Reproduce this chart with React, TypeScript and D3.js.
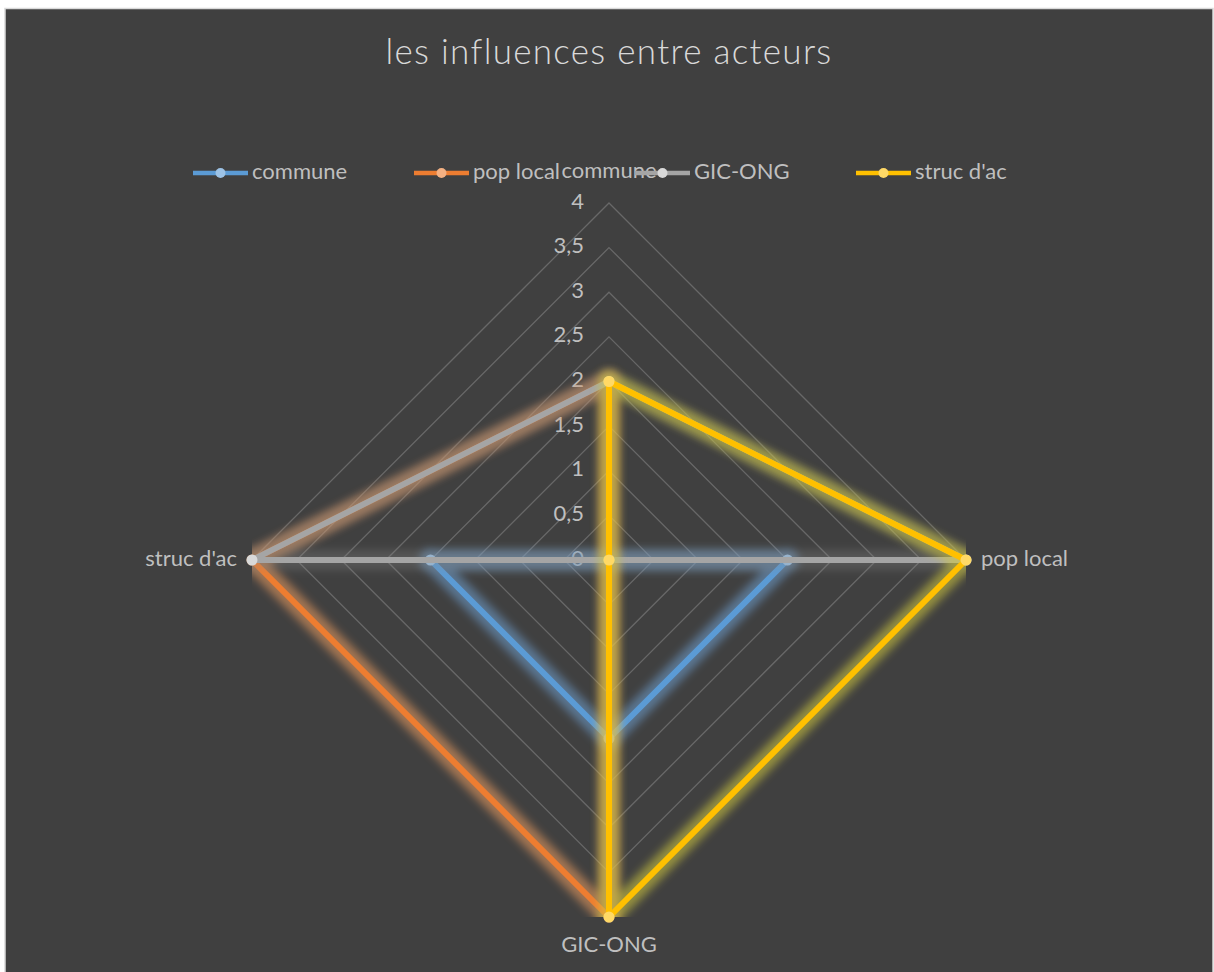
import { useMemo } from "react";
import * as d3 from "d3";

// chart values
const categories = ["commune", "pop local", "GIC-ONG", "struc d'ac"];
const seriesNames = ["commune", "pop local", "GIC-ONG", "struc d'ac"];
const communeValues = [0, 2, 2, 2];
const popLocalValues = [2, 0, 4, 4];
const gicOngValues = [2, 4, 0, 4];
const strucValues = [2, 4, 4, 0];
const tickValues = [0, 0.5, 1, 1.5, 2, 2.5, 3, 3.5, 4];
const tickLabels = ["0", "0,5", "1", "1,5", "2", "2,5", "3", "3,5", "4"];

const lineColors = ["#5b9bd5", "#ed7d31", "#a5a5a5", "#ffc000"];
const markerColors = ["#9dc3e6", "#f4b183", "#d9d9d9", "#ffd966"];
const glowColors = ["#74aae0", "#f5a060", "#8a8a8a", "#d8d040"];
const glowOpacity = [0.5, 0.55, 0.3, 0.55];

const FONT = "Lato, 'Open Sans', sans-serif";

export default function App() {
  const width = 1214;
  const height = 972;
  const cx = 609;
  const cy = 560;
  const R = 357;

  const series = [communeValues, popLocalValues, gicOngValues, strucValues];

  const r = d3.scaleLinear().domain([0, 4]).range([0, R]);
  const angle = d3
    .scalePoint<string>()
    .domain(categories)
    .range([0, (Math.PI * 3) / 2]);

  const radial = useMemo(
    () =>
      d3
        .lineRadial<number>()
        .angle((_, i) => angle(categories[i]) as number)
        .radius((d) => r(d))
        .curve(d3.curveLinearClosed),
    []
  );

  const pos = (v: number, i: number) => {
    const a = angle(categories[i]) as number;
    return [cx + r(v) * Math.sin(a), cy - r(v) * Math.cos(a)];
  };

  // legend layout
  const legendStart = 193;
  const legendStep = 221;
  const legendY = 173;

  return (
    <svg
      width={width}
      height={height}
      style={{ position: "absolute", left: 0, top: 0 }}
      fontFamily={FONT}
    >
      <defs>
        <filter
          id="glow"
          filterUnits="userSpaceOnUse"
          x={0}
          y={0}
          width={width}
          height={height}
        >
          <feGaussianBlur stdDeviation={4} />
        </filter>
        <clipPath id="plotClip">
          <rect x={cx - R} y={cy - R} width={2 * R} height={2 * R} />
        </clipPath>
      </defs>

      <rect x={0} y={0} width={width} height={height} fill="#ffffff" />
      <rect
        x={5}
        y={8.5}
        width={1208}
        height={990}
        fill="#404040"
        stroke="#d9d9d9"
        strokeWidth={1.5}
      />

      {/* title */}
      <text
        x={cx}
        y={55}
        textAnchor="middle"
        dominantBaseline="middle"
        fill="#d9d9d9"
        fontSize={35}
        letterSpacing={1.3}
        fontWeight={300}
      >
        les influences entre acteurs
      </text>

      {/* grid rings */}
      <g transform={`translate(${cx},${cy})`}>
        {tickValues.slice(1).map((t) => (
          <path
            key={t}
            d={radial(categories.map(() => t)) as string}
            fill="none"
            stroke="#686868"
            strokeWidth={1.3}
          />
        ))}
      </g>

      {/* tick labels */}
      {tickValues.map((t, i) => (
        <text
          key={t}
          x={cx - 25}
          y={cy - r(t)}
          textAnchor="end"
          dominantBaseline="middle"
          fill="#bfbfbf"
          fontSize={22}
        >
          {tickLabels[i]}
        </text>
      ))}

      {/* series */}
      {series.map((vals, si) => (
        <g key={seriesNames[si]}>
          <g clipPath="url(#plotClip)">
            <g filter="url(#glow)" opacity={glowOpacity[si]}>
              <path
                transform={`translate(${cx},${cy})`}
                d={radial(vals) as string}
                fill="none"
                stroke={glowColors[si]}
                strokeWidth={20}
                strokeLinejoin="round"
              />
              {vals.map((v, i) => {
                const [x, y] = pos(v, i);
                return (
                  <circle key={i} cx={x} cy={y} r={11} fill={glowColors[si]} />
                );
              })}
            </g>
          </g>
          <path
            transform={`translate(${cx},${cy})`}
            d={radial(vals) as string}
            fill="none"
            stroke={lineColors[si]}
            strokeWidth={6}
            strokeLinejoin="round"
          />
          {vals.map((v, i) => {
            const [x, y] = pos(v, i);
            return (
              <circle key={i} cx={x} cy={y} r={5.5} fill={markerColors[si]} />
            );
          })}
        </g>
      ))}

      {/* category labels */}
      {categories.map((c, i) => {
        const a = angle(c) as number;
        const s = Math.round(Math.sin(a));
        const co = Math.round(Math.cos(a));
        const x = cx + R * s + s * 15;
        const y = cy - R * co - (co > 0 ? 31 : co < 0 ? -29 : 0);
        const anchor = s > 0 ? "start" : s < 0 ? "end" : "middle";
        return (
          <text
            key={c}
            x={x}
            y={y}
            textAnchor={anchor}
            dominantBaseline="middle"
            fill="#bfbfbf"
            fontSize={22}
          >
            {c}
          </text>
        );
      })}

      {/* legend */}
      {seriesNames.map((name, i) => {
        const x0 = legendStart + i * legendStep;
        return (
          <g key={name}>
            <line
              x1={x0}
              x2={x0 + 55}
              y1={legendY}
              y2={legendY}
              stroke={lineColors[i]}
              strokeWidth={4.5}
            />
            <circle cx={x0 + 27.5} cy={legendY} r={5} fill={markerColors[i]} />
            <text
              x={x0 + 59}
              y={legendY}
              dominantBaseline="middle"
              fill="#bfbfbf"
              fontSize={22}
            >
              {name}
            </text>
          </g>
        );
      })}
    </svg>
  );
}
